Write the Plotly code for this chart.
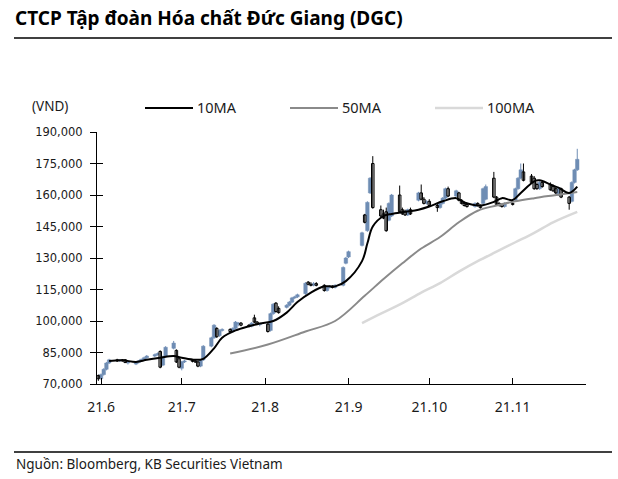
import plotly.graph_objects as go
import pandas as pd

# ---------------- data (prices in thousand VND) ----------------
holidays = ["2021-09-02", "2021-09-03"]
dates = [d.strftime("%Y-%m-%d") for d in pd.bdate_range("2021-05-31", "2021-11-25")
         if d.strftime("%Y-%m-%d") not in holidays]

open_k = [74, 72.5, 74.5, 77, 80, 81.5, 81, 81.3, 81.5, 80, 79.5, 80.3, 81, 81.8, 82.5, 83.3, 84,
          85.5, 79, 83, 87, 86, 82,
          77.5, 80.5, 81, 80.8, 80.5, 78.5, 81.5, 88, 92, 96.5, 93, 95.5, 96, 95, 96.5, 98.5, 99,
          98, 97.5, 101.5, 99.5, 98.3,
          98.5, 95.5, 103.5, 108.5, 106, 106.5, 107.5, 109, 111, 111.5, 113, 118.5, 117.5, 117,
          117.8, 117, 114.5, 116, 116.5, 116, 117, 127.5,
          130.5, 136, 150.5, 143, 161, 175, 153, 151, 152, 148, 150, 160, 153, 152, 150.5, 153,
          157.5, 161, 158, 156,
          157, 155, 154, 156, 158.5, 163, 159.5, 161, 157.5, 156, 155.5, 154.5, 156, 155, 156,
          158, 168, 159, 156, 155.5, 154.5,
          156, 157.5, 163, 168, 171, 169, 168, 165, 163, 166, 165, 164, 163, 160, 163, 159, 157,
          166, 172]
high_k = [74.5, 75, 77.5, 80.5, 82, 82, 81.8, 81.8, 81.8, 81, 80.8, 81.3, 82, 83, 83.8, 84.5, 85,
          86, 83.5, 88, 90.5, 86.5, 82.5,
          81, 81.5, 81.5, 81.3, 81, 81.5, 88.5, 92.5, 98.5, 97, 96, 96.5, 96.5, 97, 100, 99.5,
          99.5, 98.5, 99.5, 103, 100, 99,
          99, 104, 108.5, 109, 107, 108, 109.5, 111.5, 112, 113, 118.5, 119, 118.5, 118.5, 118.5,
          117.5, 116.5, 117, 117, 117.5, 126, 130.5,
          133.5, 142.5, 151, 157, 168.5, 178.5, 155, 153, 154, 156.5, 160.5, 164.5, 154, 153,
          153.5, 154, 161.5, 165, 159, 157.5,
          158, 156, 156.5, 159, 163.5, 164, 162.5, 161.5, 158, 157, 156, 156.5, 156.5, 155.5,
          163.5, 165, 171, 159.5, 156.5, 156, 156.5,
          156.5, 163.5, 168.5, 175, 175, 170, 169, 166, 166.5, 167, 166, 165, 164, 163.5, 163.5,
          159.5, 166.5, 172.5, 182]
low_k = [71.5, 72, 74, 76.5, 79.5, 80.5, 80.5, 80.7, 80, 79.3, 79, 79.8, 80.5, 81.3, 82, 82.8,
         83.5, 77.5, 78.5, 82.5, 86.5, 80, 77.5,
         76.5, 80, 80.3, 80, 78, 78, 81, 87.5, 91.5, 92, 92.5, 95, 94.5, 94.5, 96, 97.5, 97.5, 97,
         97, 99, 98, 97.5,
         94.5, 95, 103, 104, 103.5, 106, 107, 108.5, 110.5, 111, 112.5, 117, 116.5, 116.5, 116.5,
         114, 114, 115.5, 115.5, 115.5, 116.5, 127,
         130, 135.5, 146.5, 142.5, 160.5, 153.5, 149.5, 148.5, 142.5, 147.5, 149.5, 151.5, 150.5,
         150, 150, 150.5, 157, 157.5, 155.5, 155.5,
         154.5, 152, 153.5, 155.5, 158, 159, 159, 157, 155.5, 154.5, 154, 154, 154.5, 153.5,
         155.5, 157.5, 158.5, 155, 154.5, 154, 154,
         155, 157, 162.5, 167.5, 166.5, 165.5, 162.5, 162.5, 162.5, 163.5, 162, 161.5, 160.5,
         159.5, 158.5, 153, 156.5, 165.5, 171.5]
close_k = [72.5, 74.5, 77, 80, 81.5, 81, 81.3, 81, 80.2, 80.5, 80.3, 81, 81.8, 82.5, 83.3, 84,
           84.5, 78, 83, 87.5, 89.5, 80.5, 78,
           80.5, 81, 80.8, 80.5, 78.5, 81.3, 88, 92, 98, 92.5, 95.5, 96, 95, 96.5, 99.5, 99, 98,
           97.5, 99, 99.5, 98.5, 98.8,
           95, 103.5, 108, 104.5, 104, 107.5, 109, 111, 111.5, 112.5, 118, 117.5, 117, 117.8, 117,
           114.5, 116, 116.5, 116, 117, 125.5, 130,
           133, 142, 147, 156.5, 168, 154, 150, 149, 143, 156, 160, 152, 151, 150.5, 153, 151,
           161, 158, 156, 157,
           155, 154, 156, 158.5, 163, 159.5, 162, 157.5, 156, 155, 154.5, 156, 155, 154, 163, 164,
           159, 155.5, 155, 154.5, 156,
           155.5, 163, 168, 172, 167, 166, 163, 163, 166, 164, 162.5, 162, 161, 163, 159, 156,
           166, 172, 177]

ma10_dates = ["2021-06-04", "2021-06-09", "2021-06-14", "2021-06-18", "2021-06-23", "2021-06-28",
              "2021-07-01", "2021-07-06", "2021-07-09", "2021-07-13", "2021-07-16", "2021-07-21",
              "2021-07-26", "2021-07-30", "2021-08-04", "2021-08-09", "2021-08-13", "2021-08-18",
              "2021-08-23", "2021-08-27", "2021-08-31", "2021-09-06", "2021-09-08", "2021-09-10",
              "2021-09-14", "2021-09-17", "2021-09-22", "2021-09-27", "2021-10-01", "2021-10-06",
              "2021-10-11", "2021-10-14", "2021-10-20", "2021-10-25", "2021-10-28", "2021-11-01",
              "2021-11-04", "2021-11-09", "2021-11-11", "2021-11-15", "2021-11-18", "2021-11-22",
              "2021-11-25"]
ma10_k = [81, 81.3, 80.5, 81.5, 82.5, 83.3, 82.5, 81.5, 82, 87, 92, 95.5, 97.5, 98.8, 100, 104,
          109, 113.5, 116.5, 116.5, 119, 128.5, 137, 145, 150, 151, 152, 153, 154.5, 157, 158.5,
          156.5, 155, 156.7, 158.5, 157.6, 161, 166.5, 167, 165, 163.5, 161, 164]

ma50_dates = ["2021-07-19", "2021-08-02", "2021-08-16", "2021-08-27", "2021-09-07", "2021-09-14",
              "2021-09-21", "2021-09-28", "2021-10-05", "2021-10-12", "2021-10-19", "2021-10-26",
              "2021-11-02", "2021-11-09", "2021-11-16", "2021-11-25"]
ma50_k = [84.5, 88.8, 95, 100, 112, 120, 127.5, 134.5, 140, 147, 152.5, 155, 157, 158.5, 159.8,
          161.4]

ma100_dates = ["2021-09-06", "2021-09-13", "2021-09-21", "2021-09-28", "2021-10-05", "2021-10-12",
               "2021-10-19", "2021-10-26", "2021-11-02", "2021-11-09", "2021-11-16", "2021-11-25"]
ma100_k = [99, 103.5, 108.5, 113.5, 118, 123.5, 128.5, 133, 137.5, 142, 147, 152]

month_ticks = ["2021-06-01", "2021-07-01", "2021-08-01", "2021-09-01", "2021-10-01", "2021-11-01"]
month_labels = ["21.6", "21.7", "21.8", "21.9", "21.10", "21.11"]
y_ticks = [70000, 85000, 100000, 115000, 130000, 145000, 160000, 175000, 190000]

title_text = "CTCP Tập đoàn Hóa chất Đức Giang (DGC)"
source_text = "Nguồn: Bloomberg, KB Securities Vietnam"
unit_text = "(VND)"
legend_names = ["10MA", "50MA", "100MA"]

# ---------------- styling ----------------
BLUE = "#6F8DB4"
C10, C50, C100 = "#000000", "#8A8A8A", "#D9D9D9"
TXT = "#1A1A1A"
DAY_MS = 86400000
MIN_BODY = 500  # VND, so flat candles stay visible


def vnd(arr):
    return [v * 1000 for v in arr]


# split candles into rising (filled blue) and falling (hollow black)
up = [i for i in range(len(dates)) if close_k[i] > open_k[i]]
dn = [i for i in range(len(dates)) if close_k[i] <= open_k[i]]


def wicks(idx):
    xs, ys = [], []
    for i in idx:
        xs += [dates[i], dates[i], None]
        ys += [high_k[i] * 1000, low_k[i] * 1000, None]
    return xs, ys


def bodies(idx):
    base = [min(open_k[i], close_k[i]) * 1000 for i in idx]
    hgt = [max(abs(close_k[i] - open_k[i]) * 1000, MIN_BODY) for i in idx]
    return [dates[i] for i in idx], base, hgt


fig = go.Figure()
for idx, col in ((up, BLUE), (dn, "#000000")):
    wx, wy = wicks(idx)
    fig.add_trace(go.Scatter(x=wx, y=wy, mode="lines", line=dict(color=col, width=1),
                             showlegend=False, hoverinfo="skip"))
bx, bb, bh = bodies(up)
fig.add_trace(go.Bar(x=bx, y=bh, base=bb, width=1.3 * DAY_MS, showlegend=False,
                     marker=dict(color=BLUE, line=dict(color=BLUE, width=0.5))))
bx, bb, bh = bodies(dn)
fig.add_trace(go.Bar(x=bx, y=bh, base=bb, width=0.95 * DAY_MS, showlegend=False,
                     marker=dict(color="#FFFFFF", line=dict(color="#000000", width=1))))

fig.add_trace(go.Scatter(x=ma100_dates, y=vnd(ma100_k), mode="lines", name=legend_names[2],
                         line=dict(color=C100, width=2.5, shape="spline"), showlegend=False))
fig.add_trace(go.Scatter(x=ma50_dates, y=vnd(ma50_k), mode="lines", name=legend_names[1],
                         line=dict(color=C50, width=2, shape="spline"), showlegend=False))
fig.add_trace(go.Scatter(x=ma10_dates, y=vnd(ma10_k), mode="lines", name=legend_names[0],
                         line=dict(color=C10, width=2, shape="spline"), showlegend=False))
# helper trace for the inner half of the y tick marks
fig.add_trace(go.Scatter(x=[dates[0]], y=[None], yaxis="y2", showlegend=False, hoverinfo="skip"))

L, R, T, B = 97, 32, 132, 95
W, H = 618, 479
pw, ph = W - L - R, H - T - B


def px(x):
    return (x - L) / pw


def py(y):
    return (H - B - y) / ph


fig.update_layout(
    width=W, height=H, margin=dict(l=L, r=R, t=T, b=B),
    paper_bgcolor="white", plot_bgcolor="white",
    showlegend=False, barmode="overlay",
    font=dict(family="Noto Sans", size=13, color=TXT),
    xaxis=dict(type="date", range=["2021-05-30 12:00", "2021-11-28 06:00"],
               tickvals=month_ticks, ticktext=month_labels,
               ticks="inside", ticklen=6, tickcolor="#000", tickwidth=1,
               showline=True, linecolor="#000", linewidth=1, showgrid=False, zeroline=False,
               tickfont=dict(family="Noto Sans", size=14, color=TXT), ticklabelstandoff=10),
    yaxis=dict(range=[70000, 190000], tickvals=y_ticks, tickformat=",",
               ticks="outside", ticklen=6, tickcolor="#000", tickwidth=1,
               showline=True, linecolor="#000", linewidth=1, showgrid=False, zeroline=False,
               tickfont=dict(family="DejaVu Sans", size=11.5, color=TXT), ticklabelstandoff=5),
    yaxis2=dict(range=[70000, 190000], tickvals=y_ticks, overlaying="y", side="left",
                ticks="inside", ticklen=6, tickcolor="#000", tickwidth=1,
                showticklabels=False, showline=False, showgrid=False, zeroline=False),
)

shapes = [
    dict(type="line", xref="paper", yref="paper", x0=px(14), x1=px(612), y0=py(38), y1=py(38),
         line=dict(color="#000", width=1.5)),
    dict(type="line", xref="paper", yref="paper", x0=px(14), x1=px(612), y0=py(452), y1=py(452),
         line=dict(color="#000", width=1.5)),
]
leg_x = [145, 290, 435]
leg_c = [C10, C50, C100]
leg_w = [2, 2, 2.5]
annotations = [
    dict(text="<b>" + title_text + "</b>", xref="paper", yref="paper", x=px(13), y=py(18),
         xanchor="left", yanchor="middle", showarrow=False,
         font=dict(family="Noto Sans", size=19, color="#000")),
    dict(text=source_text, xref="paper", yref="paper", x=px(14), y=py(464),
         xanchor="left", yanchor="middle", showarrow=False,
         font=dict(family="Noto Sans", size=13.5, color=TXT)),
    dict(text=unit_text, xref="paper", yref="paper", x=px(50), y=py(106),
         xanchor="center", yanchor="middle", showarrow=False,
         font=dict(family="Noto Sans", size=13.5, color=TXT)),
]
for lx, c, w, name in zip(leg_x, leg_c, leg_w, legend_names):
    shapes.append(dict(type="line", xref="paper", yref="paper", x0=px(lx), x1=px(lx + 48),
                       y0=py(108), y1=py(108), line=dict(color=c, width=w)))
    annotations.append(dict(text=name, xref="paper", yref="paper", x=px(lx + 50), y=py(107),
                            xanchor="left", yanchor="middle", showarrow=False,
                            font=dict(family="Noto Sans", size=14.5, color=TXT)))
fig.update_layout(shapes=shapes, annotations=annotations)

fig.write_html("out.html", config={"displayModeBar": False},
               post_script="document.body.style.margin='0px';document.body.style.padding='0px';")
